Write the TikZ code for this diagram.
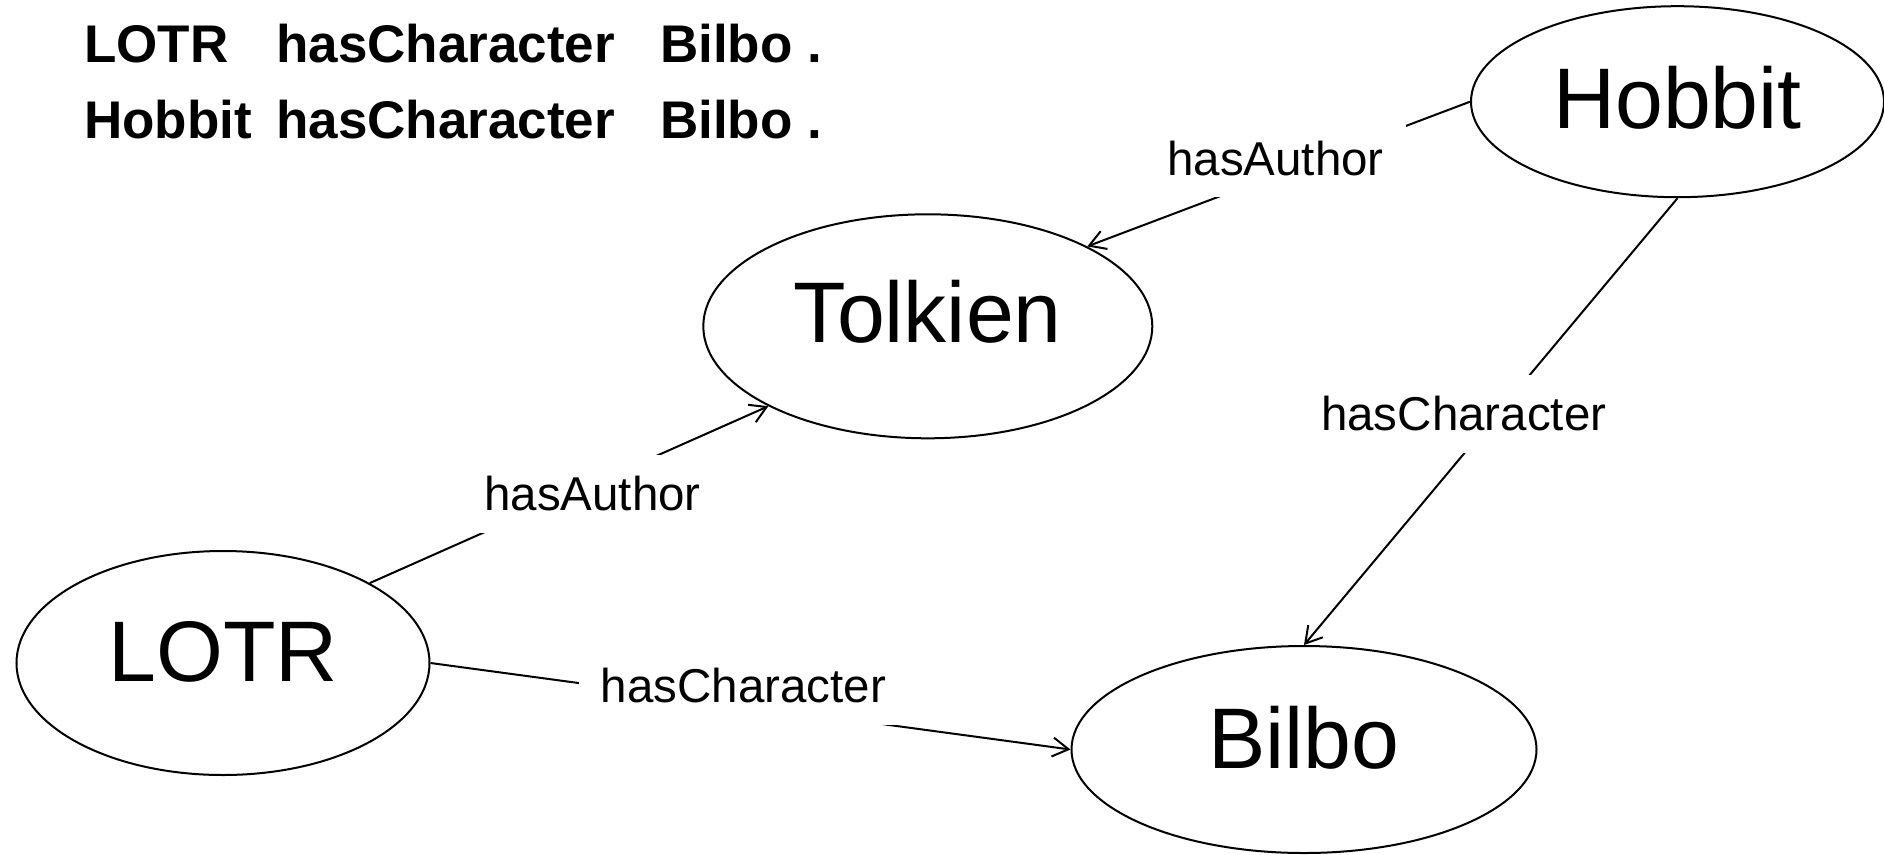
\documentclass[tikz,border=0pt]{standalone}
\usepackage{fontspec}
\setmainfont{Liberation Sans}
\usetikzlibrary{shapes.geometric,arrows.meta}

\begin{document}
\begin{tikzpicture}[x=1pt,y=1pt,
  ent/.style={draw=black,line width=2pt,ellipse,inner sep=0pt,font=\fontsize{86}{86}\selectfont,text depth=24pt},
  rel/.style={fill=white,inner xsep=22pt,inner ysep=22pt,font=\fontsize{47.5}{47.5}\selectfont,text height=34pt,text depth=0pt},
  triple/.style={anchor=base west,inner sep=0pt,font=\fontsize{53}{53}\selectfont\bfseries},
  link/.style={draw=black,line width=2pt,-{Straight Barb[length=16pt,width=19pt]}}]
\useasboundingbox (0,0) rectangle (1884,-854);
% triples
\node [triple] (s1) at (84,-62) {LOTR};
\node [triple] (p1) at (276,-62) {hasCharacter};
\node [triple] (o1) at (660,-62) {Bilbo .};
\node [triple] (s2) at (84,-138) {Hobbit};
\node [triple] (p2) at (276,-138) {hasCharacter};
\node [triple] (o2) at (660,-138) {Bilbo .};
% resources
\node [ent,minimum width=449pt,minimum height=224pt,text depth=30pt] (tolkien) at (927.8,-326.3) {Tolkien};
\node [ent,minimum width=413pt,minimum height=224pt] (lotr) at (223,-663) {LOTR};
\node [ent,minimum width=465pt,minimum height=207pt] (bilbo) at (1304,-749.5) {Bilbo};
\node [ent,minimum width=413pt,minimum height=191pt,text depth=8pt] (hobbit) at (1677.5,-101.7) {Hobbit};
% properties
\draw [link] (hobbit.west) -- (tolkien.north east);
\draw [link] (lotr.north east) -- (tolkien.south west);
\draw [link] (hobbit.south) -- (bilbo.north);
\draw [link] (lotr.east) -- (bilbo.west);
\node [rel] (auth1) at (1275.5,-158) {hasAuthor};
\node [rel] (auth2) at (592.5,-493.5) {hasAuthor};
\node [rel] (char1) at (1463.7,-413.5) {hasCharacter};
\node [rel] (char2) at (743.3,-685.5) {hasCharacter};
\end{tikzpicture}
\end{document}
